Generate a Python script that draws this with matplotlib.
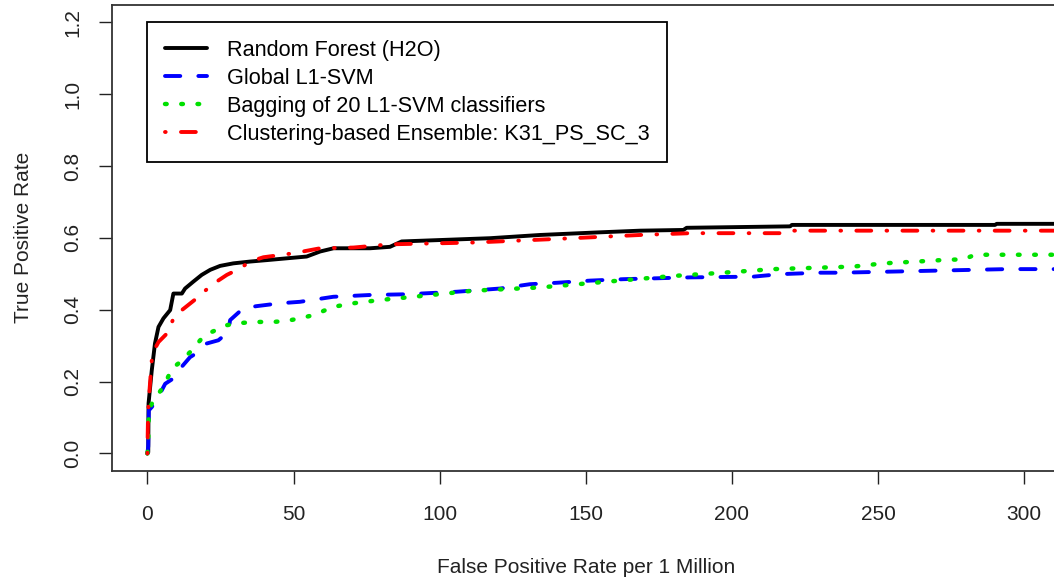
import matplotlib
matplotlib.use("Agg")
import matplotlib.pyplot as plt

plt.rcParams['font.family'] = ['Liberation Sans', 'DejaVu Sans']
plt.rcParams['lines.scale_dashes'] = False

# ROC points (x: false positives per 1 million, y: true positive rate)
rf_x = [0, 0.3, 0.4, 1.5, 2.6, 3.8, 5.5, 7.8, 8.9, 11.8, 12.9, 15.7, 18.6, 21.5, 24.9, 29.4,
        35.1, 40.8, 54.5, 59.1, 63.7, 76.2, 83, 87, 117.2, 134.3, 153.7, 168.6, 183.4,
        184.5, 219.9, 220.5, 290, 290.6, 320]
rf_y = [0, 0.003, 0.139, 0.231, 0.306, 0.352, 0.376, 0.399, 0.445, 0.445, 0.459, 0.478,
        0.497, 0.511, 0.522, 0.529, 0.534, 0.538, 0.548, 0.562, 0.571, 0.571, 0.575, 0.590,
        0.599, 0.608, 0.615, 0.620, 0.622, 0.628, 0.632, 0.636, 0.636, 0.639, 0.639]

svm_x = [0, 0.3, 0.5, 1.5, 4.3, 6.1, 9.5, 11.2, 14.6, 17.4, 20.3, 24.3, 27.7, 28.3, 32.8,
         37.4, 45.4, 52.2, 63.6, 76.2, 88.7, 105.8, 120.7, 130.9, 140.1, 151.5, 162.9,
         185.7, 207.3, 216.5, 230.1, 237, 294, 320]
svm_y = [0, 0.02, 0.12, 0.129, 0.166, 0.194, 0.212, 0.236, 0.268, 0.282, 0.306, 0.315,
         0.338, 0.371, 0.404, 0.410, 0.418, 0.422, 0.436, 0.441, 0.443, 0.450, 0.459, 0.471,
         0.475, 0.481, 0.485, 0.490, 0.492, 0.499, 0.503, 0.503, 0.513, 0.513]

bag_x = [0, 0.3, 0.5, 1.5, 3.8, 6.1, 8.3, 11.2, 14.6, 18.6, 22, 27.2, 31.7, 37.4, 43.1, 47.7,
         52.2, 56.8, 63.6, 70.5, 79.6, 91, 111.6, 134.3, 157.2, 180, 197, 214.2, 241.5,
         251.8, 263.2, 273.5, 279.2, 283.2, 320]
bag_y = [0, 0.03, 0.12, 0.138, 0.166, 0.194, 0.236, 0.254, 0.282, 0.320, 0.338, 0.357,
         0.363, 0.366, 0.366, 0.369, 0.376, 0.385, 0.408, 0.418, 0.427, 0.436, 0.453, 0.462,
         0.478, 0.494, 0.503, 0.513, 0.520, 0.529, 0.534, 0.539, 0.540, 0.553, 0.553]

ens_x = [0, 0.2, 0.4, 1.5, 2.6, 3.8, 7.2, 8.9, 11.8, 16.9, 22, 27.2, 31.7, 35.1, 39.7, 49.9,
         59.1, 70.5, 83, 111.6, 140.1, 168.6, 185.7, 216.5, 218.7, 320]
ens_y = [0, 0.09, 0.14, 0.259, 0.292, 0.310, 0.338, 0.376, 0.399, 0.432, 0.469, 0.497,
         0.515, 0.534, 0.546, 0.557, 0.571, 0.573, 0.582, 0.587, 0.597, 0.608, 0.613, 0.613,
         0.620, 0.620]

labels = ["Random Forest (H2O)", "Global L1-SVM", "Bagging of 20 L1-SVM classifiers",
          "Clustering-based Ensemble: K31_PS_SC_3"]

fig = plt.figure(figsize=(10.54, 5.81), dpi=100)
ax = fig.add_axes([112.3 / 1054, 1 - 470.7 / 581, 947 / 1054, 465.7 / 581])

lw = 2.8
ax.plot(rf_x, rf_y, color="black", lw=lw, solid_capstyle="round", label=labels[0])
ax.plot(svm_x, svm_y, color="blue", lw=lw, dashes=(11, 13), dash_capstyle="round",
        label=labels[1])
ax.plot(bag_x, bag_y, color="#00E000", lw=3.2, dashes=(1.2, 10.5), dash_capstyle="round",
        label=labels[2])
ax.plot(ens_x, ens_y, color="red", lw=lw, dashes=(0.5, 11, 10.7, 11), dash_capstyle="round",
        label=labels[3])

ax.set_xlim(-12, 312)
ax.set_ylim(-0.048, 1.248)
ax.set_xticks([0, 50, 100, 150, 200, 250, 300])
ax.set_yticks([0.0, 0.2, 0.4, 0.6, 0.8, 1.0, 1.2])
ax.set_yticklabels(["0.0", "0.2", "0.4", "0.6", "0.8", "1.0", "1.2"], rotation=90, va="center")
ax.tick_params(direction="out", length=9.4, width=1, labelsize=15, colors="#222222")
ax.tick_params(axis="x", pad=15)
ax.tick_params(axis="y", pad=12)
for s in ax.spines.values():
    s.set_linewidth(1.3)
    s.set_color("#333333")

ax.set_xlabel("False Positive Rate per 1 Million", fontsize=15, color="#222222")
ax.set_ylabel("True Positive Rate", fontsize=15, color="#222222")
ax.xaxis.set_label_coords(0.5, -0.187)
ax.yaxis.set_label_coords(-0.084, 0.5)

leg = ax.legend(loc="upper left", bbox_to_anchor=(0, 1.2), bbox_transform=ax.transData,
                borderaxespad=0, fontsize=15.6, handlelength=1.95, handletextpad=0.92,
                borderpad=0.8, labelspacing=0.33, fancybox=False, framealpha=1)
leg.get_frame().set_edgecolor("black")
leg.get_frame().set_linewidth(1.3)

fig.savefig("out.png", dpi=100)
